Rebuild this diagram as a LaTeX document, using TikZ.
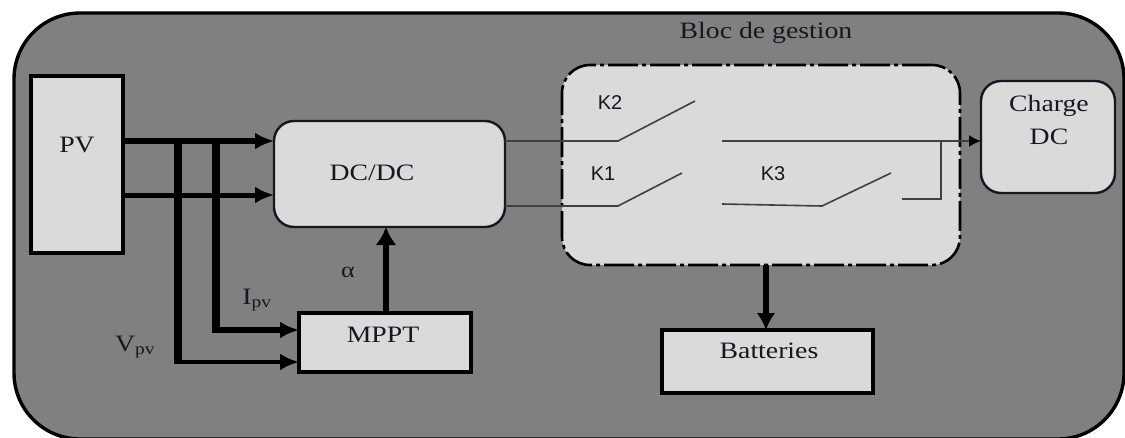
\documentclass[tikz,border=0pt]{standalone}
\usepackage{fontspec}
\setmainfont[FakeStretch=1.18]{Liberation Serif}
\newfontfamily\ksans{Liberation Sans}
\usetikzlibrary{arrows.meta}
\definecolor{bgout}{HTML}{808080}
\definecolor{bgin}{HTML}{DADADA}
\definecolor{ink}{HTML}{141822}
\tikzset{
  rbox/.style={draw=black,fill=bgin,line width=3.8pt,outer sep=0pt,inner sep=0pt,anchor=north west},
  roundbox/.style={draw=ink,fill=bgin,line width=2.4pt,rounded corners=20pt,outer sep=0pt,inner sep=0pt,anchor=north west},
  lab/.style={text=ink,font=\fontsize{23.5}{26}\selectfont,inner sep=0pt},
  klab/.style={text=ink,font=\ksans\fontsize{20}{22}\selectfont,inner sep=0pt},
  fat/.style={line width=#1,-{Latex[length=19pt,width=17pt]}},
  bus/.style={line width=#1},
  wire/.style={line width=1.6pt,draw=black!75}
}
\begin{document}
\begin{tikzpicture}[x=1pt,y=-1pt]
\useasboundingbox (0,0) rectangle (1125,437);
\clip (0,0) rectangle (1125,437);
% outer block
\node[rbox,fill=bgout,rounded corners=66pt,line width=3.4pt,minimum width=1110pt,minimum height=426pt] (outer) at (14,13) {};
% blocks
\node[rbox,minimum width=92pt,minimum height=177pt] (pv) at (31,76) {};
\node[roundbox,minimum width=231pt,minimum height=106pt] (dcdc) at (274,121) {};
\node[rbox,minimum width=172pt,minimum height=59pt] (mppt) at (299,313) {};
\node[rbox,minimum width=211pt,minimum height=63pt] (batt) at (662,330) {};
\node[roundbox,minimum width=134pt,minimum height=112pt] (charge) at (981,81) {};
\node[anchor=north west,draw=black,fill=bgin,line width=2.6pt,rounded corners=28pt,outer sep=0pt,inner sep=0pt,
      minimum width=398pt,minimum height=200pt,dash pattern=on 30pt off 4pt on 4pt off 4pt] (gest) at (562,65) {};
% labels
\node[lab] (tpv) at (77,145) {PV};
\node[lab] (tdc) at (372,173) {DC/DC};
\node[lab] (tmppt) at (383,335) {MPPT};
\node[lab] (tbatt) at (769,351) {Batteries};
\node[lab] (tch) at (1049,106) {Charge};
\node[lab] (tdc2) at (1049,137) {DC};
\node[lab] (tbloc) at (766,33) {Bloc de gestion};
\node[lab,font=\fontsize{22}{24}\selectfont] (talpha) at (348,272) {α};
\node[lab] (tipv) at (257,300) {I\textsubscript{pv}};
\node[lab] (tvpv) at (135,347) {V\textsubscript{pv}};
\node[klab] (tk2) at (610,103) {K2};
\node[klab] (tk1) at (603,174) {K1};
\node[klab] (tk3) at (773,174) {K3};
% coordinates on the buses and switches
\coordinate (busI) at (216,141);
\coordinate (busV) at (178,141);
\coordinate (k2a) at (618,141);
\coordinate (k2b) at (695,101);
\coordinate (k1a) at (618,206);
\coordinate (k1b) at (682,173);
\coordinate (out) at (722,141);
\coordinate (k3s) at (722,204);
\coordinate (k3a) at (822,206);
\coordinate (k3b) at (891,173);
\coordinate (k3c) at (902,199);
\coordinate (k3d) at (941,199);
\coordinate (k3e) at (941,141);
% PV to DC/DC
\draw[fat=6pt] (pv.east |- 0,141) -- (dcdc.west |- 0,141);
\draw[fat=5pt] (pv.east |- 0,195) -- (dcdc.west |- 0,195);
% measurement buses
\draw[fat=5.5pt] (216,330) -- (mppt.west |- 0,330);
\draw[bus=7.5pt] (busI) -- (216,332.75);
\draw[fat=4.5pt] (178,362) -- (mppt.west |- 0,362);
\draw[bus=8pt] (busV) -- (178,364.25);
% alpha
\draw[line width=6pt,-{Latex[length=18pt,width=21pt]}] (mppt.north -| 386,0) -- (dcdc.south -| 386,0);
% switches
\draw[wire] (dcdc.east |- 0,141) -- (k2a) -- (k2b);
\draw[wire] (dcdc.east |- 0,206) -- (k1a) -- (k1b);
\draw[wire] (k3s) -- (k3a) -- (k3b);
\draw[wire] (k3c) -- (k3d) -- (k3e);
\draw[line width=1.8pt,draw=black!75,-{Latex[length=12pt,width=12pt,black]}] (out) -- (charge.west |- out);
% to batteries
\draw[line width=5.5pt,-{Latex[length=17pt,width=19pt]}] (gest.south -| 766,0) -- (batt.north -| 766,0);
\end{tikzpicture}
\end{document}
